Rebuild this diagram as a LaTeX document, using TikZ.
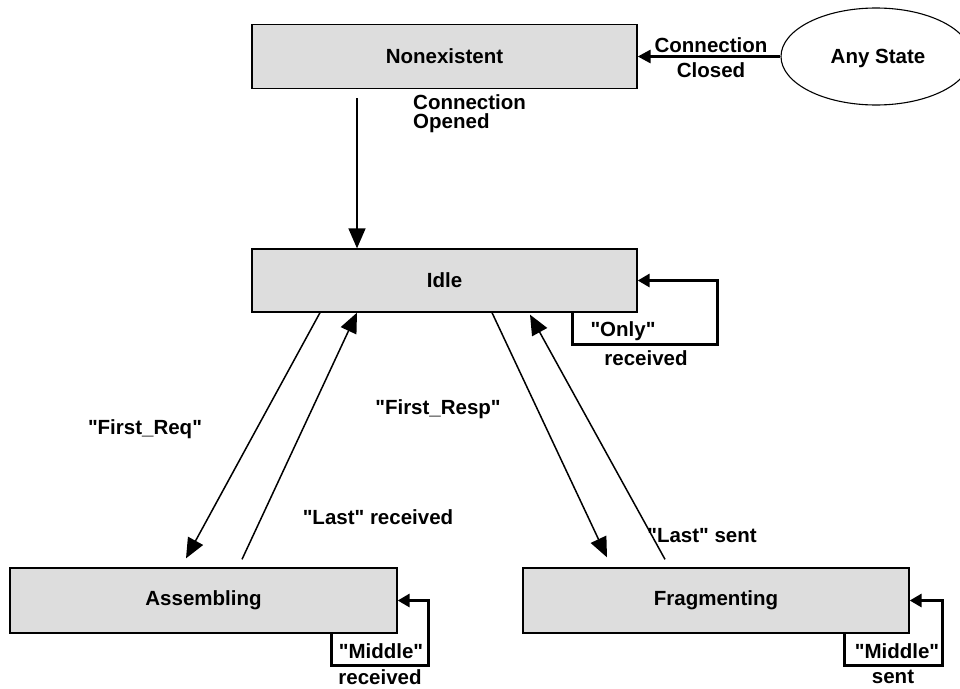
\documentclass[tikz,border=0pt]{standalone}
\usepackage{fontspec}
\setmainfont{Liberation Sans}
\usetikzlibrary{arrows.meta,shapes.geometric}
\definecolor{boxgray}{HTML}{DDDDDD}
\newcommand{\dq}{\textquotedbl}
\begin{document}
\begin{tikzpicture}[x=1pt,y=-1pt,
  statebox/.style={draw, fill=boxgray, line width=1.3pt, inner sep=0pt,
    minimum width=385pt, minimum height=64pt,
    font=\fontsize{20.5}{24}\selectfont\bfseries},
  anybox/.style={draw, ellipse, line width=1.1pt, inner sep=0pt,
    minimum width=190pt, minimum height=97pt,
    font=\fontsize{20.5}{24}\selectfont\bfseries},
  arr/.style={line width=1.5pt, -{Triangle[length=20pt,width=17pt]}},
  thickarr/.style={line width=3pt, -{Triangle[length=13pt,width=13pt]}},
  loopline/.style={line width=3pt, -{Triangle[length=12pt,width=13pt]}},
  lbl/.style={inner sep=0pt, font=\fontsize{20.5}{24}\selectfont\bfseries}
]
\useasboundingbox (0,0) rectangle (960,688);

% states
\node[statebox] (non)  at (444.5,56.5) {Nonexistent};
\node[statebox, minimum height=63pt] (idle) at (444.5,280.5) {Idle};
\node[statebox, minimum width=387pt, minimum height=65pt] (asm) at (203.5,600.5) {Assembling};
\node[statebox, minimum width=386pt, minimum height=65pt] (frag) at (716,600.5) {Fragmenting};
\node[anybox] (any) at (876,56.5) {};
\node[lbl] (anyt) at (878,58) {Any State};

% Any State -> Nonexistent
\draw[thickarr] (any.west) -- (non.east);
\node[lbl, align=center, font=\fontsize{20.5}{25}\selectfont\bfseries] (lclosed) at (711,57.5) {Connection\\Closed};

% Nonexistent -> Idle
\draw[arr] ([xshift=-87.5pt,yshift=-9pt]non.south) -- ([xshift=-87.5pt]idle.north);
\node[lbl, anchor=west, align=left, font=\fontsize{20.5}{19}\selectfont\bfseries] (lopened) at (413,114) {Connection\\Opened};

% Idle -> Assembling
\draw[arr] ([xshift=-124.5pt]idle.south) -- ([xshift=-17.5pt,yshift=9pt]asm.north);
\node[lbl] (lfreq) at (145,429) {\dq First\_Req\dq};

% Assembling -> Idle
\draw[arr] ([xshift=38.5pt,yshift=8pt]asm.north) -- ([xshift=-87.5pt]idle.south);
\node[lbl] (llastr) at (378,517) {\dq Last\dq{} received};

% Idle -> Fragmenting
\draw[arr] ([xshift=47.5pt]idle.south) -- ([xshift=-109pt,yshift=10pt]frag.north);
\node[lbl] (lfresp) at (438,409) {\dq First\_Resp\dq};

% Fragmenting -> Idle
\draw[arr] ([xshift=-51pt,yshift=8pt]frag.north) -- ([xshift=85.5pt,yshift=-2pt]idle.south);
\node[lbl] (llasts) at (702,536) {\dq Last\dq{} sent};

% self loops
\draw[loopline] ([xshift=127.5pt]idle.south) -- ++(0,32) -| ([xshift=80pt]idle.east) -- (idle.east);
\node[lbl] (lonly) at (623,331) {\dq Only\dq};
\node[lbl] (lonlyr) at (646,358) {received};

\draw[loopline] ([xshift=127.5pt]asm.south) -- ++(0,32) -| ([xshift=31pt]asm.east) -- (asm.east);
\node[lbl] (lmidr) at (381,651) {\dq Middle\dq};
\node[lbl] (lmidrr) at (380,677) {received};

\draw[loopline] ([xshift=128pt]frag.south) -- ++(0,32) -| ([xshift=33pt]frag.east) -- (frag.east);
\node[lbl] (lmids) at (897,651) {\dq Middle\dq};
\node[lbl] (lmidss) at (893,677) {sent};
\end{tikzpicture}
\end{document}
